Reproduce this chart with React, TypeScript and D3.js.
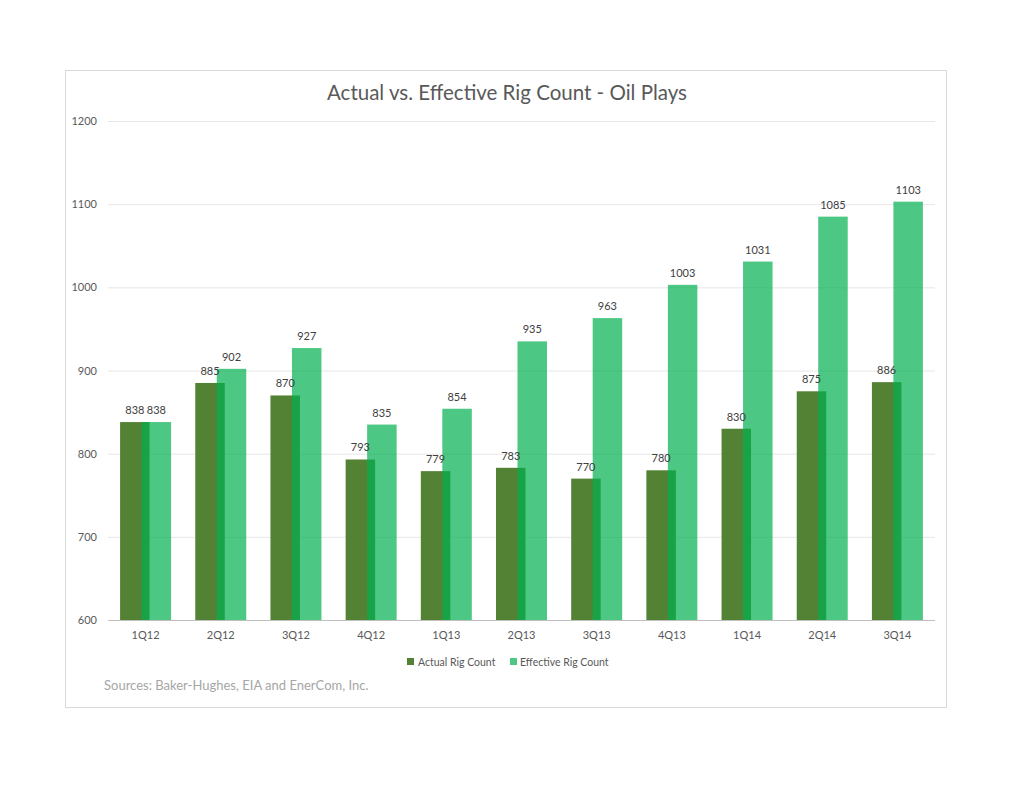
import React from "react";
import * as d3 from "d3";

const categories = ["1Q12", "2Q12", "3Q12", "4Q12", "1Q13", "2Q13", "3Q13", "4Q13", "1Q14", "2Q14", "3Q14"];
const actualRigCount = [838, 885, 870, 793, 779, 783, 770, 780, 830, 875, 886];
const effectiveRigCount = [838, 902, 927, 835, 854, 935, 963, 1003, 1031, 1085, 1103];
const yTicks = [600, 700, 800, 900, 1000, 1100, 1200];

const W = 1024;
const H = 791;
const FONT = "Lato, 'Open Sans', sans-serif";

export default function App() {
  const x = d3.scaleBand<string>().domain(categories).range([108, 935]);
  const y = d3.scaleLinear().domain([600, 1200]).range([620, 121]);
  const bw = 29.5;
  const overlap = 8;
  const groupW = bw * 2 - overlap;

  return (
    <svg width={W} height={H} style={{ position: "absolute", left: 0, top: 0, background: "#fff" }} fontFamily={FONT}>
      <rect x={0} y={0} width={W} height={H} fill="#fff" />
      <rect x={65.5} y={70.5} width={881} height={637} fill="#fff" stroke="#d9d9d9" strokeWidth={1} />
      <text x={507} y={100} textAnchor="middle" fontSize={20.5} fill="#595959">
        Actual vs. Effective Rig Count - Oil Plays
      </text>
      {yTicks.map((t) => (
        <g key={t}>
          {t !== 600 && (
            <line x1={108} x2={935} y1={y(t) + 0.5} y2={y(t) + 0.5} stroke="#e6e6e6" strokeWidth={1} />
          )}
          <text x={97} y={y(t) + 4} textAnchor="end" fontSize={11} fill="#595959">
            {t}
          </text>
        </g>
      ))}
      {categories.map((c, i) => {
        const cx = (x(c) as number) + x.bandwidth() / 2;
        const left = cx - groupW / 2;
        const a = actualRigCount[i];
        const e = effectiveRigCount[i];
        return (
          <g key={c}>
            <rect x={left} y={y(a)} width={bw} height={y(600) - y(a)} fill="#548235" />
            <rect x={left + bw - overlap} y={y(e)} width={bw} height={y(600) - y(e)} fill="#00B050" fillOpacity={0.7} />
            <text x={left + bw / 2} y={y(a) - 8} textAnchor="middle" fontSize={11} fill="#404040">
              {a}
            </text>
            <text x={left + bw - overlap + bw / 2} y={y(e) - 8} textAnchor="middle" fontSize={11} fill="#404040">
              {e}
            </text>
            <text x={cx} y={639} textAnchor="middle" fontSize={11} fill="#595959">
              {c}
            </text>
          </g>
        );
      })}
      <line x1={108} x2={935} y1={620.5} y2={620.5} stroke="#bfbfbf" strokeWidth={1} />
      <rect x={407} y={658} width={7} height={7} fill="#548235" />
      <text x={418} y={665.5} fontSize={10.5} fill="#595959">Actual Rig Count</text>
      <rect x={510} y={658} width={7} height={7} fill="#00B050" fillOpacity={0.7} />
      <text x={520} y={665.5} fontSize={10.5} fill="#595959">Effective Rig Count</text>
      <text x={104} y={690} fontSize={13} fill="#a6a6a6">
        Sources: Baker-Hughes, EIA and EnerCom, Inc.
      </text>
    </svg>
  );
}
